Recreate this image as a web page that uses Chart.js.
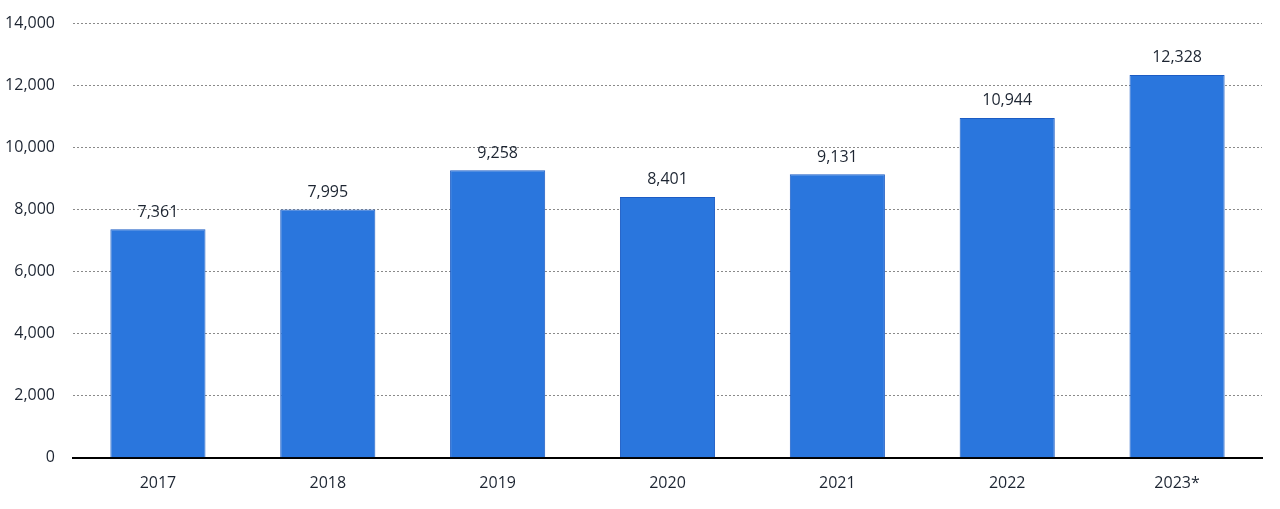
<!DOCTYPE html>
<html>
<head>
<meta charset="utf-8">
<script src="https://cdn.jsdelivr.net/npm/chart.js@4"></script>
<style>
  html, body { margin: 0; padding: 0; background: #fff; }
  #wrap { width: 1280px; height: 509px; }
</style>
</head>
<body>
<div id="wrap"><canvas id="myBarChart"></canvas></div>
<script>
// data
var years = ['2017', '2018', '2019', '2020', '2021', '2022', '2023*'];
var values = [7361, 7995, 9258, 8401, 9131, 10944, 12328];
var yTicks = [0, 2000, 4000, 6000, 8000, 10000, 12000, 14000];

var textColor = '#1d2532';
var fontFamily = '"Open Sans", "Noto Sans", sans-serif';

// labels on top of bars
var valueLabels = {
  id: 'valueLabels',
  afterDatasetsDraw: function (chart) {
    var ctx = chart.ctx;
    var meta = chart.getDatasetMeta(0);
    ctx.save();
    ctx.font = '16px ' + fontFamily;
    ctx.fillStyle = textColor;
    ctx.textAlign = 'center';
    ctx.textBaseline = 'middle';
    meta.data.forEach(function (bar, i) {
      ctx.fillText(values[i].toLocaleString('en-US'), bar.x, bar.y - 17);
    });
    ctx.restore();
  }
};

var ctx = document.getElementById('myBarChart');
var myBarChart = new Chart(ctx, {
  type: 'bar',
  data: {
    labels: years,
    datasets: [{
      data: values,
      backgroundColor: '#2a76dd',
      borderColor: '#1c5cc4',
      borderWidth: 1,
      barPercentage: 0.56,
      categoryPercentage: 1.0
    }]
  },
  options: {
    responsive: true,
    maintainAspectRatio: false,
    animation: false,
    layout: { padding: { top: 23, right: 18, left: 0, bottom: 8 } },
    plugins: {
      legend: { display: false },
      tooltip: { enabled: false }
    },
    scales: {
      x: {
        grid: { display: false },
        border: { display: true, color: '#000', width: 2 },
        ticks: {
          color: textColor,
          font: { family: fontFamily, size: 16 },
          padding: 8
        }
      },
      y: {
        min: 0,
        max: 14000,
        afterFit: function (scale) {
          scale.width = 73;
          scale.paddingTop = 0;
          scale.paddingBottom = 0;
        },
        afterBuildTicks: function (scale) {
          scale.ticks = yTicks.map(function (v) { return { value: v }; });
        },
        border: { display: false, dash: [2, 2] },
        grid: {
          color: '#8a8a8a',
          lineWidth: 1,
          drawTicks: false
        },
        ticks: {
          color: textColor,
          font: { family: fontFamily, size: 16 },
          padding: 18,
          callback: function (v) { return v.toLocaleString('en-US'); }
        }
      }
    }
  },
  plugins: [valueLabels]
});
</script>
</body>
</html>
